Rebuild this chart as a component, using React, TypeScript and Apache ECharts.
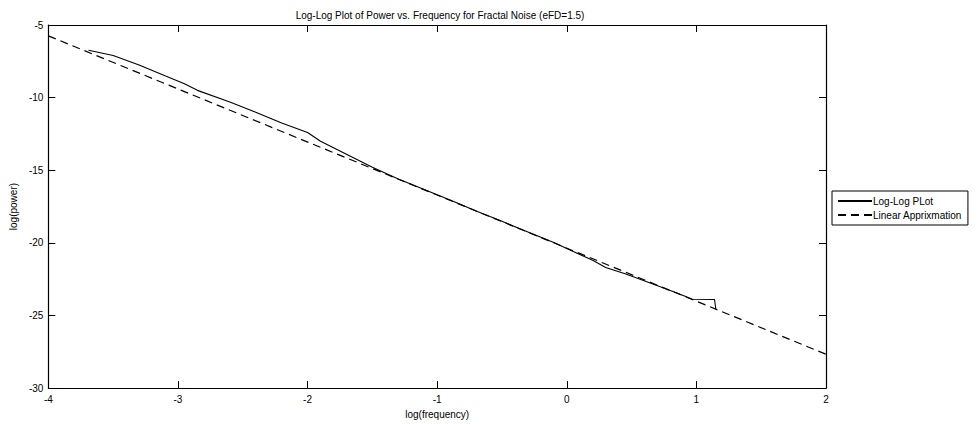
import React, { useEffect, useRef } from "react";
import * as echarts from "echarts";

const titleText = "Log-Log Plot of Power vs. Frequency for Fractal Noise (eFD=1.5)";
const xAxisName = "log(frequency)";
const yAxisName = "log(power)";
const seriesNames = ["Log-Log PLot", "Linear Apprixmation"];

// Log-Log plot (solid) : [log(frequency), log(power)]
const logLogX = [
  -3.69, -3.5, -3.3, -3.1, -2.95, -2.85, -2.6, -2.4, -2.2, -2.0, -1.9, -1.7, -1.5, -1.3,
  -1.1, -0.9, -0.7, -0.5, -0.3, -0.1, 0.05, 0.2, 0.3, 0.45, 0.55, 0.7, 0.85, 0.97, 1.14, 1.15,
];
const logLogY = [
  -6.74, -7.1, -7.75, -8.5, -9.05, -9.5, -10.3, -11.0, -11.75, -12.4, -13.0, -13.9, -14.8, -15.6,
  -16.33, -17.05, -17.8, -18.52, -19.25, -19.98, -20.6, -21.2, -21.7, -22.12, -22.45, -22.95, -23.45,
  -23.88, -23.9, -24.57,
];

// Linear approximation (dashed)
const linX = [-4, 2];
const linY = [-5.75, -27.67];

const xTicks = { min: -4, max: 2, interval: 1 };
const yTicks = { min: -30, max: -5, interval: 5 };

const FONT = "'Liberation Sans', Arial, sans-serif";

export default function App() {
  const ref = useRef<HTMLDivElement>(null);
  useEffect(() => {
    if (!ref.current) return;
    const chart = echarts.init(ref.current, undefined, { renderer: "svg" });
    const axisLine = { show: true, onZero: false, lineStyle: { color: "#000", width: 1.2 } };
    const axisTick = { show: true, inside: true, length: 7, lineStyle: { color: "#000", width: 1 } };
    chart.setOption({
      animation: false,
      backgroundColor: "#fff",
      textStyle: { fontFamily: FONT },
      title: {
        text: titleText,
        left: 435,
        textAlign: "center",
        top: 5,
        textStyle: { fontSize: 10, fontWeight: "normal", color: "#000", fontFamily: FONT },
      },
      grid: { left: 45, right: 153, top: 25, bottom: 34, containLabel: false },
      legend: {
        orient: "vertical",
        left: 832,
        top: 191,
        data: seriesNames,
        itemWidth: 34,
        itemHeight: 10,
        itemGap: 4,
        borderColor: "#000",
        borderWidth: 1,
        padding: [5, 6, 5, 5],
        itemStyle: { opacity: 0 },
        textStyle: { fontSize: 10, color: "#000", fontFamily: FONT, padding: [0, 0, 0, -4] },
      },
      xAxis: [
        {
          type: "value",
          position: "bottom",
          ...xTicks,
          axisLine,
          axisTick,
          splitLine: { show: false },
          axisLabel: { color: "#000", fontSize: 10, margin: 6, fontFamily: FONT },
          name: xAxisName,
          nameLocation: "middle",
          nameGap: 19,
          nameTextStyle: { color: "#000", fontSize: 10, fontFamily: FONT },
        },
        {
          type: "value",
          position: "top",
          ...xTicks,
          axisLine,
          axisTick,
          splitLine: { show: false },
          axisLabel: { show: false },
        },
      ],
      yAxis: [
        {
          type: "value",
          position: "left",
          ...yTicks,
          axisLine,
          axisTick,
          splitLine: { show: false },
          axisLabel: { color: "#000", fontSize: 10, margin: 5, fontFamily: FONT },
          name: yAxisName,
          nameLocation: "middle",
          nameGap: 27,
          nameTextStyle: { color: "#000", fontSize: 10, fontFamily: FONT },
        },
        {
          type: "value",
          position: "right",
          ...yTicks,
          axisLine,
          axisTick,
          splitLine: { show: false },
          axisLabel: { show: false },
        },
      ],
      series: [
        {
          name: seriesNames[0],
          type: "line",
          xAxisIndex: 0,
          yAxisIndex: 0,
          symbol: "none",
          data: logLogX.map((x, i) => [x, logLogY[i]]),
          lineStyle: { color: "#000", width: 1.1 },
          itemStyle: { color: "#000" },
        },
        {
          name: seriesNames[1],
          type: "line",
          xAxisIndex: 0,
          yAxisIndex: 0,
          symbol: "none",
          data: linX.map((x, i) => [x, linY[i]]),
          lineStyle: { color: "#000", width: 1.2, type: [8, 5] },
          itemStyle: { color: "#000" },
        },
      ],
    });
    return () => chart.dispose();
  }, []);
  return (
    <div
      ref={ref}
      style={{ position: "fixed", left: 0, top: 0, width: 979, height: 424, background: "#fff" }}
    />
  );
}
